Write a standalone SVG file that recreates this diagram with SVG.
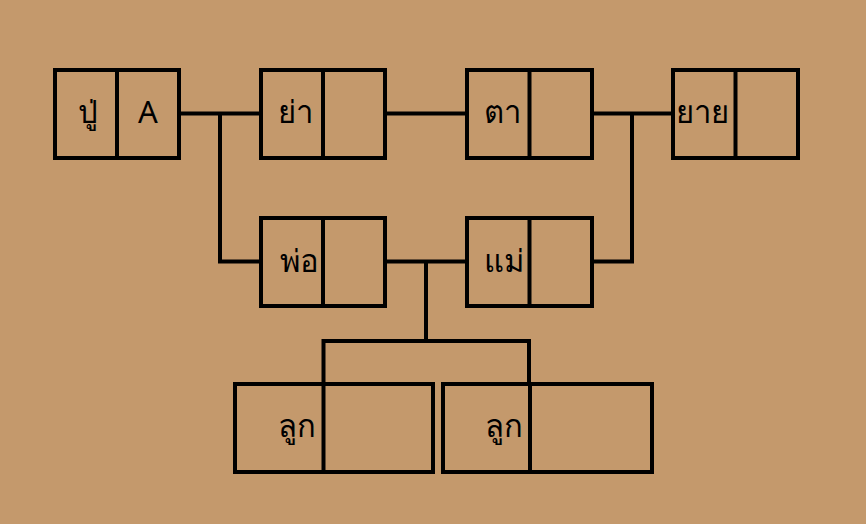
<svg xmlns="http://www.w3.org/2000/svg" width="866" height="524" viewBox="0 0 866 524">
<style>
.box{fill:none;stroke:#000;stroke-width:4}
.ln{fill:none;stroke:#000;stroke-width:4}
.t{font-family:"Noto Sans","DejaVu Sans",sans-serif;font-size:31px;fill:#000;text-anchor:middle}
</style>
<rect x="0" y="0" width="866" height="524" fill="#C4996C"/>
<g id="connectors">
<polyline class="ln" points="180,113.5 261,113.5"/>
<polyline class="ln" points="220,113.5 220,261.5 261,261.5"/>
<polyline class="ln" points="385,113.5 467,113.5"/>
<polyline class="ln" points="592,113.5 673,113.5"/>
<polyline class="ln" points="592,261.5 632,261.5 632,113.5"/>
<polyline class="ln" points="385,261.5 467,261.5"/>
<polyline class="ln" points="426,261.5 426,341"/>
<polyline class="ln" points="323.5,383 323.5,341 529,341 529,383"/>
</g>
<g id="node-pu">
<rect class="box" x="55" y="70" width="124" height="88"/>
<line class="box" x1="117" y1="70" x2="117" y2="158"/>
<text class="t" x="88" y="123">ปู่</text>
<text class="t" x="148" y="123">A</text>
</g>
<g id="node-ya">
<rect class="box" x="261" y="70" width="124" height="88"/>
<line class="box" x1="323" y1="70" x2="323" y2="158"/>
<text class="t" x="295" y="123">ย่า</text>
</g>
<g id="node-ta">
<rect class="box" x="467" y="70" width="125" height="88"/>
<line class="box" x1="529.5" y1="70" x2="529.5" y2="158"/>
<text class="t" x="502" y="123">ตา</text>
</g>
<g id="node-yai">
<rect class="box" x="673" y="70" width="125" height="88"/>
<line class="box" x1="735.5" y1="70" x2="735.5" y2="158"/>
<text class="t" x="702" y="123">ยาย</text>
</g>
<g id="node-por">
<rect class="box" x="261" y="218" width="124" height="88"/>
<line class="box" x1="323" y1="218" x2="323" y2="306"/>
<text class="t" x="299" y="272">พ่อ</text>
</g>
<g id="node-mae">
<rect class="box" x="467" y="218" width="125" height="88"/>
<line class="box" x1="529.5" y1="218" x2="529.5" y2="306"/>
<text class="t" x="504" y="272">แม่</text>
</g>
<g id="node-luk1">
<rect class="box" x="235" y="384" width="198" height="88"/>
<line class="box" x1="323.5" y1="384" x2="323.5" y2="472"/>
<text class="t" x="296.5" y="437">ลูก</text>
</g>
<g id="node-luk2">
<rect class="box" x="443" y="384" width="209" height="88"/>
<line class="box" x1="530" y1="384" x2="530" y2="472"/>
<text class="t" x="504" y="437">ลูก</text>
</g>
</svg>
